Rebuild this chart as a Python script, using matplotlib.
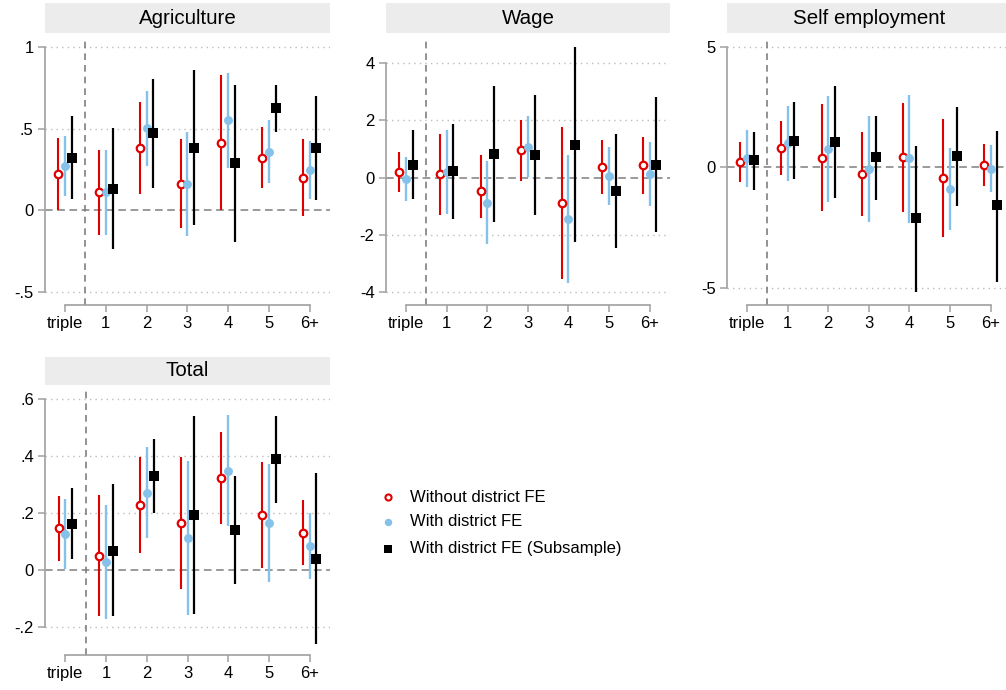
import matplotlib
matplotlib.use("Agg")
import matplotlib.pyplot as plt
from matplotlib.patches import Rectangle
from matplotlib.lines import Line2D

plt.rcParams['font.family'] = ['Liberation Sans', 'DejaVu Sans']

categories = ["triple", "1", "2", "3", "4", "5", "6+"]
series_labels = ["Without district FE", "With district FE", "With district FE (Subsample)"]

# Agriculture
agri_red = [0.224, 0.110, 0.384, 0.163, 0.414, 0.320, 0.200]
agri_red_lo = [0.002, -0.153, 0.100, -0.106, 0.000, 0.135, -0.037]
agri_red_hi = [0.440, 0.367, 0.665, 0.435, 0.827, 0.508, 0.437]
agri_blue = [0.273, 0.110, 0.502, 0.163, 0.551, 0.357, 0.247]
agri_blue_lo = [0.090, -0.151, 0.273, -0.155, 0.261, 0.169, 0.069]
agri_blue_hi = [0.455, 0.371, 0.730, 0.480, 0.841, 0.551, 0.424]
agri_black = [0.322, 0.133, 0.476, 0.384, 0.290, 0.627, 0.384]
agri_black_lo = [0.067, -0.239, 0.139, -0.092, -0.194, 0.480, 0.063]
agri_black_hi = [0.575, 0.504, 0.804, 0.859, 0.769, 0.769, 0.700]

# Wage
wage_red = [0.20, 0.12, -0.48, 0.95, -0.90, 0.35, 0.42]
wage_red_lo = [-0.49, -1.30, -1.41, -0.12, -3.55, -0.58, -0.57]
wage_red_hi = [0.88, 1.52, 0.78, 2.02, 1.77, 1.30, 1.40]
wage_blue = [-0.06, 0.20, -0.87, 1.07, -1.44, 0.06, 0.13]
wage_blue_lo = [-0.83, -1.28, -2.30, 0.01, -3.66, -0.94, -0.98]
wage_blue_hi = [0.73, 1.65, 0.58, 2.14, 0.79, 1.07, 1.24]
wage_black = [0.45, 0.21, 0.83, 0.78, 1.14, -0.47, 0.45]
wage_black_lo = [-0.76, -1.44, -1.56, -1.31, -2.26, -2.44, -1.88]
wage_black_hi = [1.67, 1.86, 3.20, 2.88, 4.53, 1.51, 2.79]

# Self employment
self_red = [0.22, 0.79, 0.40, -0.28, 0.42, -0.44, 0.10]
self_red_lo = [-0.62, -0.33, -1.81, -2.01, -1.86, -2.89, -0.78]
self_red_hi = [1.05, 1.94, 2.62, 1.45, 2.69, 2.01, 0.96]
self_blue = [0.37, 1.00, 0.76, -0.06, 0.37, -0.89, -0.06]
self_blue_lo = [-0.80, -0.57, -1.45, -2.26, -2.29, -2.59, -1.04]
self_blue_hi = [1.54, 2.56, 2.96, 2.15, 3.02, 0.82, 0.93]
self_black = [0.29, 1.11, 1.07, 0.42, -2.12, 0.46, -1.58]
self_black_lo = [-0.93, -0.47, -1.25, -1.34, -5.19, -1.59, -4.74]
self_black_hi = [1.48, 2.71, 3.39, 2.15, 0.90, 2.51, 1.52]

# Total
total_red = [0.147, 0.050, 0.229, 0.166, 0.324, 0.193, 0.132]
total_red_lo = [0.034, -0.162, 0.061, -0.064, 0.161, 0.007, 0.019]
total_red_hi = [0.260, 0.263, 0.398, 0.397, 0.486, 0.380, 0.245]
total_blue = [0.126, 0.029, 0.272, 0.113, 0.349, 0.166, 0.085]
total_blue_lo = [0.005, -0.172, 0.113, -0.157, 0.155, -0.040, -0.029]
total_blue_hi = [0.250, 0.230, 0.432, 0.384, 0.544, 0.374, 0.200]
total_black = [0.162, 0.068, 0.331, 0.195, 0.141, 0.390, 0.041]
total_black_lo = [0.040, -0.162, 0.200, -0.153, -0.049, 0.236, -0.258]
total_black_hi = [0.287, 0.301, 0.460, 0.542, 0.331, 0.542, 0.340]

agri_ticks = [-0.5, 0, 0.5, 1]
agri_ticklabels = ["-.5", "0", ".5", "1"]
wage_ticks = [-4, -2, 0, 2, 4]
wage_ticklabels = ["-4", "-2", "0", "2", "4"]
self_ticks = [-5, 0, 5]
self_ticklabels = ["-5", "0", "5"]
total_ticks = [-0.2, 0, 0.2, 0.4, 0.6]
total_ticklabels = ["-.2", "0", ".2", ".4", ".6"]

W, H = 1006, 690
fig = plt.figure(figsize=(W / 100, H / 100), dpi=100)

RED = "#e00000"
BLUE = "#86c1ea"
BLACK = "#000000"
SPINE = "#a0a0a0"


def px_axes(l, t, r, b):
    return fig.add_axes([l / W, 1 - b / H, (r - l) / W, (b - t) / H])


def title_bar(l, r, t, b, text):
    fig.add_artist(Rectangle((l / W, 1 - b / H), (r - l) / W, (b - t) / H,
                             transform=fig.transFigure, facecolor="#ececec",
                             edgecolor="none", zorder=0))
    fig.text((l + r) / 2 / W, 1 - (t + b) / 2 / H, text, ha="center", va="center",
             fontsize=14.8, color="black")


STYLES = [
    dict(marker="o", ms=5.4, mfc="white", mec=RED, mew=1.6, color=RED, lw=1.5),
    dict(marker="o", ms=6.4, mfc=BLUE, mec=BLUE, mew=0, color=BLUE, lw=1.7),
    dict(marker="s", ms=6.8, mfc=BLACK, mec=BLACK, mew=0, color=BLACK, lw=1.6),
]


def panel(pos, bar, title, ylim, ticks, ticklabels, series):
    ax = px_axes(*pos)
    title_bar(pos[0], pos[2], bar[0], bar[1], title)
    x = list(range(len(categories)))
    ax.set_xlim(-0.5, 6.5)
    ax.set_ylim(*ylim)
    for tk in ticks:
        if tk != 0:
            ax.axhline(tk, color="#bdbdbd", lw=1.0, ls=(0, (1, 3)), zorder=1)
    ax.axhline(0, color="#7f7f7f", lw=1.1, ls=(0, (5, 3)), zorder=1)
    ax.axvline(0.5, color="#7f7f7f", lw=1.2, ls=(0, (4, 3)), zorder=1)
    offsets = [-0.165, 0.0, 0.165]
    for (coef, lo, hi), off, st in zip(series, offsets, STYLES):
        xs = [xi + off for xi in x]
        ax.vlines(xs, lo, hi, color=st["color"], lw=st["lw"], zorder=3)
        ax.plot(xs, coef, linestyle="none", marker=st["marker"], ms=st["ms"],
                mfc=st["mfc"], mec=st["mec"], mew=st["mew"], zorder=4)
    ax.set_xticks(x)
    ax.set_xticklabels(categories, fontsize=12)
    ax.set_yticks(ticks)
    ax.set_yticklabels(ticklabels, fontsize=12)
    for s in ["top", "right"]:
        ax.spines[s].set_visible(False)
    ax.spines["left"].set_bounds(ticks[0], ticks[-1])
    ax.spines["bottom"].set_bounds(0, 6)
    for s in ["left", "bottom"]:
        ax.spines[s].set_color(SPINE)
        ax.spines[s].set_linewidth(1.2)
    ax.tick_params(axis="both", colors=SPINE, labelcolor="black", length=5, width=1.1)
    ax.tick_params(axis="x", pad=3)
    ax.tick_params(axis="y", pad=3)
    ax.patch.set_alpha(0)
    return ax


panel((44.7, 38, 330, 305), (3, 33), "Agriculture", (-0.58, 1.055), agri_ticks, agri_ticklabels,
      [(agri_red, agri_red_lo, agri_red_hi), (agri_blue, agri_blue_lo, agri_blue_hi),
       (agri_black, agri_black_lo, agri_black_hi)])
panel((385.7, 38, 670, 305), (3, 33), "Wage", (-4.44, 4.86), wage_ticks, wage_ticklabels,
      [(wage_red, wage_red_lo, wage_red_hi), (wage_blue, wage_blue_lo, wage_blue_hi),
       (wage_black, wage_black_lo, wage_black_hi)])
panel((726.7, 38, 1011, 305), (3, 33), "Self employment", (-5.71, 5.37), self_ticks, self_ticklabels,
      [(self_red, self_red_lo, self_red_hi), (self_blue, self_blue_lo, self_blue_hi),
       (self_black, self_black_lo, self_black_hi)])
panel((45, 390, 330, 655), (357, 385), "Total", (-0.297, 0.632), total_ticks, total_ticklabels,
      [(total_red, total_red_lo, total_red_hi), (total_blue, total_blue_lo, total_blue_hi),
       (total_black, total_black_lo, total_black_hi)])

# Legend
leg_styles = [
    dict(marker="o", ms=4.4, mfc="white", mec=RED, mew=1.5),
    dict(marker="o", ms=5.4, mfc=BLUE, mec=BLUE, mew=0),
    dict(marker="s", ms=5.2, mfc=BLACK, mec=BLACK, mew=0),
]
leg_y = [497, 522, 549]
for lab, st, yy in zip(series_labels, leg_styles, leg_y):
    fig.add_artist(Line2D([388 / W], [1 - yy / H], transform=fig.transFigure,
                          linestyle="none", **st))
    fig.text(410 / W, 1 - yy / H, lab, ha="left", va="center", fontsize=12, color="black")

fig.savefig("out.png", dpi=100)
